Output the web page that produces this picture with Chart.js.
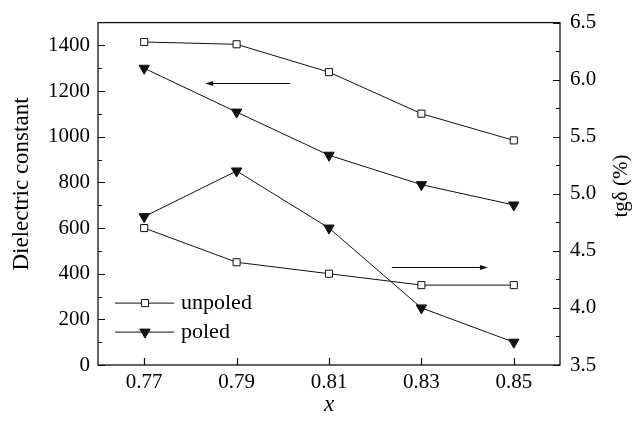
<!DOCTYPE html>
<html><head><meta charset="utf-8">
<script src="https://cdn.jsdelivr.net/npm/chart.js@4/dist/chart.umd.min.js"></script>
<style>html,body{margin:0;padding:0;background:#fff}#wrap{width:638px;height:427px}</style>
</head><body><div id="wrap"><canvas id="c" width="638" height="427"></canvas></div>
<script>
// ---- data ----
const xValues = [0.77, 0.79, 0.81, 0.83, 0.85];
const dielUnpoled = [1415, 1405, 1283, 1101, 984];
const dielPoled = [1300, 1108, 919, 790, 701];
const tanUnpoled = [4.70, 4.40, 4.30, 4.20, 4.20];
const tanPoled = [4.80, 5.20, 4.70, 4.00, 3.70];
const xTicks = [0.77, 0.79, 0.81, 0.83, 0.85];
const leftTicks = [0, 200, 400, 600, 800, 1000, 1200, 1400];
const leftMinorTicks = [100, 300, 500, 700, 900, 1100, 1300];
const rightTicks = [3.5, 4.0, 4.5, 5.0, 5.5, 6.0, 6.5];
const rightMinorTicks = [3.75, 4.25, 4.75, 5.25, 5.75, 6.25];
const legendLabels = ['unpoled', 'poled'];
// arrows: [axis, xStart, xEnd, yValue] (arrowhead at xEnd)
const arrowLeft = ['y', 0.8016, 0.7832, 1236];
const arrowRight = ['y2', 0.8236, 0.8444, 4.356];

const INK = '#111';
const TXT = '#000';
const SERIF = '"Liberation Serif", "Times New Roman", serif';

function pts(ys) { return xValues.map((x, i) => ({ x: x, y: ys[i] })); }

const sqStyle = { pointStyle: 'rect', pointRadius: 5, pointBackgroundColor: '#fff', pointBorderColor: INK, pointBorderWidth: 1 };
const triStyle = { pointStyle: 'triangle', pointRadius: 6, pointRotation: 180, pointBackgroundColor: INK, pointBorderColor: INK, pointBorderWidth: 1 };

const frameTicks = {
  id: 'frameTicks',
  afterDraw(chart) {
    const ctx = chart.ctx, ca = chart.chartArea;
    const sx = chart.scales.x, sy = chart.scales.y, sy2 = chart.scales.y2;
    ctx.save();
    ctx.strokeStyle = INK; ctx.lineWidth = 1.3;
    ctx.strokeRect(ca.left, ca.top, ca.right - ca.left, ca.bottom - ca.top);
    ctx.lineWidth = 1.2;
    ctx.beginPath();
    xTicks.forEach(v => { const p = Math.round(sx.getPixelForValue(v)) + 0.5; ctx.moveTo(p, ca.bottom); ctx.lineTo(p, ca.bottom - 7); });
    leftTicks.forEach(v => { const p = Math.round(sy.getPixelForValue(v)) + 0.5; ctx.moveTo(ca.left, p); ctx.lineTo(ca.left + 7, p); });
    leftMinorTicks.forEach(v => { const p = Math.round(sy.getPixelForValue(v)) + 0.5; ctx.moveTo(ca.left, p); ctx.lineTo(ca.left + 4, p); });
    rightTicks.forEach(v => { const p = Math.round(sy2.getPixelForValue(v)) + 0.5; ctx.moveTo(ca.right, p); ctx.lineTo(ca.right - 7, p); });
    rightMinorTicks.forEach(v => { const p = Math.round(sy2.getPixelForValue(v)) + 0.5; ctx.moveTo(ca.right, p); ctx.lineTo(ca.right - 4, p); });
    ctx.stroke();

    // arrows
    [arrowLeft, arrowRight].forEach(a => {
      const ys = chart.scales[a[0]];
      const x0 = sx.getPixelForValue(a[1]), x1 = sx.getPixelForValue(a[2]);
      const y = Math.round(ys.getPixelForValue(a[3])) + 0.5;
      const dir = Math.sign(x1 - x0);
      ctx.lineWidth = 1;
      ctx.beginPath(); ctx.moveTo(x0, y); ctx.lineTo(x1 - dir * 6, y); ctx.stroke();
      ctx.fillStyle = INK;
      ctx.beginPath(); ctx.moveTo(x1, y); ctx.lineTo(x1 - dir * 8, y - 2.5); ctx.lineTo(x1 - dir * 8, y + 2.5); ctx.closePath(); ctx.fill();
    });

    // legend
    const lx0 = ca.left + 17, lx1 = ca.left + 76, mx = ca.left + 47, tx = ca.left + 83;
    const ly = [ca.top + 280, ca.top + 309];
    const styles = [sqStyle, triStyle];
    ctx.font = '22px ' + SERIF; ctx.textBaseline = 'middle'; ctx.textAlign = 'left';
    legendLabels.forEach((lab, i) => {
      ctx.strokeStyle = INK; ctx.lineWidth = 1;
      ctx.beginPath(); ctx.moveTo(lx0, ly[i] + 0.5); ctx.lineTo(lx1, ly[i] + 0.5); ctx.stroke();
      const st = styles[i];
      ctx.fillStyle = st.pointBackgroundColor; ctx.strokeStyle = st.pointBorderColor; ctx.lineWidth = 1;
      Chart.helpers.drawPoint(ctx, { pointStyle: st.pointStyle, radius: st.pointRadius, rotation: st.pointRotation || 0, borderWidth: 1 }, mx, ly[i] + 0.5);
      ctx.fillStyle = TXT;
      ctx.fillText(lab, tx, ly[i] + 1);
    });

    // axis titles
    ctx.fillStyle = TXT; ctx.textAlign = 'center'; ctx.textBaseline = 'middle';
    ctx.save(); ctx.translate(22, 184); ctx.rotate(-Math.PI / 2);
    ctx.font = '23px ' + SERIF; ctx.fillText('Dielectric constant', 0, 0); ctx.restore();
    ctx.save(); ctx.translate(621, 186); ctx.rotate(-Math.PI / 2);
    ctx.font = '21px ' + SERIF; ctx.fillText('tgδ (%)', 0, 0); ctx.restore();
    ctx.font = 'italic 23px ' + SERIF;
    ctx.fillText('x', (ca.left + ca.right) / 2, 405);
    ctx.restore();
  }
};

const tickFont = { family: SERIF, size: 21 };

new Chart(document.getElementById('c'), {
  type: 'line',
  data: {
    datasets: [
      Object.assign({ label: 'unpoled ε', data: pts(dielUnpoled), yAxisID: 'y' }, sqStyle),
      Object.assign({ label: 'poled ε', data: pts(dielPoled), yAxisID: 'y' }, triStyle),
      Object.assign({ label: 'unpoled tgδ', data: pts(tanUnpoled), yAxisID: 'y2' }, sqStyle),
      Object.assign({ label: 'poled tgδ', data: pts(tanPoled), yAxisID: 'y2' }, triStyle)
    ].map(d => Object.assign(d, { borderColor: INK, borderWidth: 1, fill: false, tension: 0 }))
  },
  options: {
    responsive: false, animation: false, devicePixelRatio: 1,
    layout: { padding: { top: 18, left: 0, right: 0, bottom: 0 } },
    plugins: { legend: { display: false }, tooltip: { enabled: false } },
    scales: {
      x: {
        type: 'linear', min: 0.76, max: 0.86,
        grid: { display: false, drawTicks: false }, border: { display: false },
        afterBuildTicks: s => { s.ticks = xTicks.map(v => ({ value: v })); },
        ticks: { font: tickFont, color: TXT, padding: 5, maxRotation: 0, autoSkip: false, callback: v => Number(v).toFixed(2) },
        afterFit: s => { s.height = 62; }
      },
      y: {
        type: 'linear', position: 'left', min: 0, max: 1500,
        grid: { display: false, drawTicks: false }, border: { display: false },
        afterBuildTicks: s => { s.ticks = leftTicks.map(v => ({ value: v })); },
        ticks: { font: tickFont, color: TXT, padding: 8, autoSkip: false, callback: v => String(v) },
        afterFit: s => { s.width = 98; }
      },
      y2: {
        type: 'linear', position: 'right', min: 3.5, max: 6.5,
        grid: { display: false, drawTicks: false }, border: { display: false },
        afterBuildTicks: s => { s.ticks = rightTicks.map(v => ({ value: v })); },
        ticks: { font: tickFont, color: TXT, padding: 10, autoSkip: false, callback: v => Number(v).toFixed(1) },
        afterFit: s => { s.width = 78; }
      }
    }
  },
  plugins: [frameTicks]
});
</script>
</body></html>
